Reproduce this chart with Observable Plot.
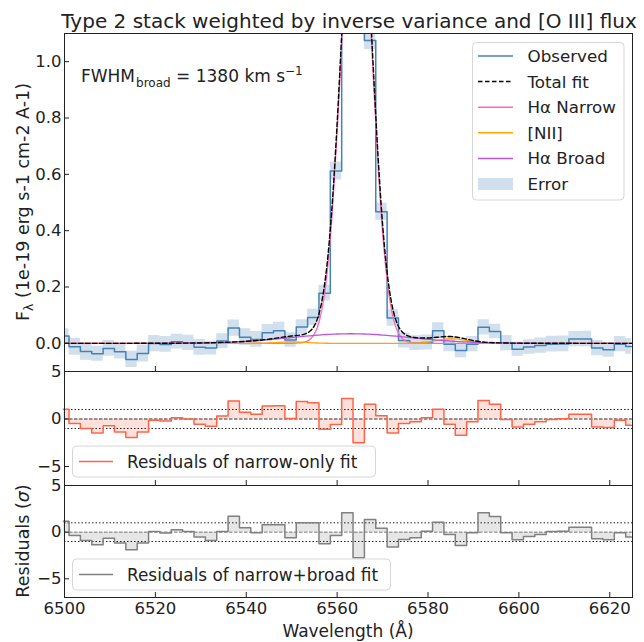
<!DOCTYPE html>
<html><head><meta charset="utf-8">
<script src="https://cdn.jsdelivr.net/npm/d3@7"></script>
<script src="https://cdn.jsdelivr.net/npm/@observablehq/plot@0.6"></script>
<style>
body{margin:0;background:#fff;}
#chart{position:relative;width:644px;height:642px;font-family:"DejaVu Sans",sans-serif;}
#chart svg{position:absolute;left:0;overflow:visible;}
</style></head><body><div id="chart"></div>
<script>
// ---- data ----
const binCenters = [6499.75,6502.25,6504.75,6507.25,6509.75,6512.25,6514.75,6517.25,6519.75,6522.25,
  6524.75,6527.25,6529.75,6532.25,6534.75,6537.25,6539.75,6542.25,6544.75,6547.25,
  6549.75,6552.25,6554.75,6557.25,6559.75,6562.25,6564.75,6567.25,6569.75,6572.25,
  6574.75,6577.25,6579.75,6582.25,6584.75,6587.25,6589.75,6592.25,6594.75,6597.25,
  6599.75,6602.25,6604.75,6607.25,6609.75,6612.25,6614.75,6617.25,6619.75,6622.25,6624.75];
const observed = [0.026,-0.012,-0.029,-0.037,-0.018,-0.030,-0.057,-0.036,-0.001,-0.004,
  0.006,0.002,-0.014,-0.017,0.008,0.054,0.022,0.014,0.038,0.045,
  0.012,0.058,0.092,0.178,0.612,1.90,1.95,1.075,0.467,0.090,
  0.010,0.001,0.003,0.045,-0.003,-0.025,-0.003,0.057,0.042,0.001,
  -0.021,-0.013,-0.008,-0.003,-0.002,0.015,0.015,-0.017,-0.023,-0.003,-0.011];
const errors = [0.026,0.030,0.031,0.027,0.028,0.026,0.029,0.030,0.029,0.028,
  0.026,0.027,0.028,0.024,0.026,0.029,0.030,0.028,0.029,0.030,
  0.026,0.026,0.029,0.028,0.032,0.035,0.035,0.032,0.030,0.029,
  0.027,0.026,0.027,0.028,0.027,0.026,0.027,0.027,0.026,0.027,
  0.025,0.026,0.027,0.028,0.028,0.027,0.028,0.027,0.026,0.027,0.028];
const residNarrow = [1.02,-0.47,-1.0,-1.47,-0.72,-1.36,-1.96,-1.36,-0.12,-0.22,
  0.13,-0.01,-0.54,-0.76,0.31,1.9,0.7,0.49,1.37,1.4,
  0.06,1.83,1.72,-1.07,-0.58,2.15,-2.49,1.55,0.34,-1.47,
  -0.47,-0.3,0.13,1.02,-0.54,-1.71,-0.3,1.94,1.55,-0.05,
  -0.83,-0.54,-0.3,-0.05,0.02,0.49,0.49,-0.83,-0.9,-0.12,-0.65];
const residBroad = [1.18,-0.35,-0.89,-1.35,-0.64,-1.17,-1.88,-1.17,0.07,-0.1,
  0.25,0.07,-0.53,-0.89,0.07,1.71,0.46,-0.07,0.79,0.79,
  -0.6,1.0,1.0,-1.24,-0.35,2.07,-2.74,1.36,0.43,-1.6,
  -0.78,-0.6,0.1,1.07,-0.25,-1.42,-0.07,2.07,1.68,-0.07,
  -0.82,-0.46,-0.25,0.07,0.1,0.53,0.53,-0.71,-0.82,-0.07,-0.53];

const modelWave = [6500,6510,6520,6525,6530,6535,6540,6543,6546,6548,6550,
  6552,6553,6554,6555,6556,6557,6558,6559,6560,6561,6562,6563,6564,6565,6566,6567,
  6568,6569,6570,6571,6572,6573,6574,6575,6576,6577,6578,
  6580,6582,6584,6585,6586,6588,6590,6593,6596,6600,6605,6610,6615,6620,6625];
const narrowFit = [0,0,0,0,0,0,0,0,0,0,0.0002,
  0.0017,0.005,0.0134,0.033,0.074,0.152,0.283,0.482,0.749,1.061,1.372,1.619,1.743,1.711,1.533,1.252,
  0.933,0.635,0.394,0.223,0.115,0.054,0.023,0.0091,0.0033,0.001,0.0003,
  0,0,0,0,0,0,0,0,0,0,0,0,0,0,0];
const broadFit = [0,0,0.0001,0.0005,0.0014,0.0033,0.0071,0.0104,0.0145,0.0175,0.0206,
  0.0238,0.0253,0.0268,0.0281,0.0294,0.0306,0.0316,0.0324,0.0331,0.0336,0.0339,0.034,0.0339,0.0336,0.0331,0.0324,
  0.0316,0.0306,0.0294,0.0281,0.0268,0.0253,0.0238,0.0222,0.0206,0.019,0.0175,
  0.0145,0.0117,0.0092,0.0081,0.0071,0.0054,0.0039,0.0024,0.0014,0.0006,0.0002,0.0001,0,0,0];
const niiFit = [0,0,0,0,0,0,0.0001,0.0006,0.0026,0.0045,0.0053,
  0.0043,0.0034,0.0024,0.0016,0.001,0.0005,0.0003,0.0001,0,0,0,0,0,0,0,0,
  0,0,0,0,0,0,0.0001,0.0001,0.0003,0.0007,0.0015,
  0.0046,0.010,0.015,0.016,0.0155,0.0112,0.0056,0.001,0.0001,0,0,0,0,0,0];
const totalFit = [0,0,0.0001,0.0005,0.0014,0.0033,0.0072,0.011,0.0171,0.022,0.0261,
  0.0298,0.0337,0.0426,0.0627,0.1044,0.1831,0.3149,0.5145,0.7821,1.0946,1.4059,1.653,1.7769,1.7446,1.5661,1.2844,
  0.9646,0.6656,0.4234,0.2511,0.1418,0.0793,0.0469,0.0314,0.0242,0.0207,0.0193,
  0.0191,0.0217,0.0242,0.0241,0.0226,0.0166,0.0095,0.0034,0.0015,0.0006,0.0002,0.0001,0,0,0];

const xTicks = [6500,6520,6540,6560,6580,6600,6620];
const fluxTicks = [0.0,0.2,0.4,0.6,0.8,1.0];
const residTicks = [-5,0,5];

// ---- tables ----
const spec = binCenters.map((x,i)=>({x, y:observed[i], lo:observed[i]-errors[i], hi:observed[i]+errors[i], r1:residNarrow[i], r2:residBroad[i]}));
const model = modelWave.map((x,i)=>({x, narrow:narrowFit[i], broad:broadFit[i], nii:niiFit[i], total:totalFit[i]}));

const W = 644, ML = 64, MR = 12, FW = W-ML-MR;
const xDomain = [6500, 6625];
const ink = "#222";
const baseStyle = {fontFamily:"DejaVu Sans", fontSize:"16.5px", background:"transparent", overflow:"visible", color:ink};
const chart = document.getElementById("chart");
function place(svg, top){ svg.style.top = top+"px"; chart.appendChild(svg); }

// top panel
const H1 = 338;
const p1 = Plot.plot({
  width:W, height:33+H1, marginLeft:ML, marginRight:MR, marginTop:33, marginBottom:0,
  x:{domain:xDomain, axis:null}, y:{domain:[-0.1,1.1], axis:null},
  style:baseStyle,
  marks:[
    Plot.areaY(spec,{x:"x", y1:"lo", y2:"hi", curve:"step", fill:"steelblue", fillOpacity:0.25, clip:true}),
    Plot.line(spec,{x:"x", y:"y", curve:"step", stroke:"steelblue", strokeWidth:1.5, clip:true}),
    Plot.line(model,{x:"x", y:"narrow", curve:"monotone-x", stroke:"hotpink", strokeWidth:1.3, clip:true}),
    Plot.line(model,{x:"x", y:"nii", curve:"monotone-x", stroke:"orange", strokeWidth:1.3, clip:true}),
    Plot.line(model,{x:"x", y:"broad", curve:"monotone-x", stroke:"mediumorchid", strokeWidth:1.3, clip:true}),
    Plot.line(model,{x:"x", y:"total", curve:"monotone-x", stroke:"black", strokeWidth:1.4, strokeDasharray:"4.5,2.5", clip:true}),
    Plot.axisY(fluxTicks,{tickSize:0, tickPadding:3, tickFormat:d3.format(".1f"), label:null}),
    Plot.tickY(fluxTicks,{y:d=>d, insetRight:FW-5, stroke:ink}),
    Plot.tickX(xTicks,{x:d=>d, insetTop:H1-5, stroke:ink}),
    Plot.frame({stroke:ink})
  ]
});
place(p1, 0);

function residPanel(key, color, height, mb, zeroStroke){
  const FH = height - mb;
  return Plot.plot({
    width:W, height, marginLeft:ML, marginRight:MR, marginTop:0, marginBottom:mb,
    x:{domain:xDomain, axis:null}, y:{domain:[-7,5], axis:null},
    style:baseStyle,
    marks:[
      Plot.areaY(spec,{x:"x", y1:0, y2:key, curve:"step", fill:color, fillOpacity:0.2}),
      Plot.ruleY([-1,1],{stroke:"#222", strokeWidth:1, strokeDasharray:"1.5,2"}),
      Plot.ruleY([0],{stroke:zeroStroke, strokeWidth:1, strokeDasharray:"3.5,1.5"}),
      Plot.line(spec,{x:"x", y:key, curve:"step", stroke:color, strokeWidth:1.5}),
      Plot.axisY(residTicks,{tickSize:0, tickPadding:3, tickFormat:d3.format("d"), label:null}),
      mb > 0 ? Plot.axisX(xTicks,{tickSize:0, tickPadding:5, tickFormat:d3.format("d"), label:null}) : null,
      Plot.tickY(residTicks,{y:d=>d, insetRight:FW-5, stroke:ink}),
      Plot.tickX(xTicks,{x:d=>d, insetTop:FH-5, stroke:ink}),
      Plot.frame({stroke:ink})
    ]
  });
}
place(residPanel("r1","tomato",114,0,"#333"), 371);
place(residPanel("r2","gray",157,45,"#777"), 485);

// ---- overlay: titles, labels, legends ----
const ov = d3.create("svg").attr("width",W).attr("height",642)
  .style("top","0px").style("pointer-events","none")
  .attr("font-family","DejaVu Sans").attr("fill",ink);
ov.append("text").attr("x",349).attr("y",28).attr("text-anchor","middle").attr("font-size",20)
  .text("Type 2 stack weighted by inverse variance and [O III] flux");
const ann = ov.append("text").attr("x",81).attr("y",82).attr("font-size",17);
ann.append("tspan").text("FWHM");
ann.append("tspan").attr("font-size",12).attr("dy",4.5).attr("dx",1).text("broad");
ann.append("tspan").attr("dy",-4.5).text(" = 1380 km s");
ann.append("tspan").attr("font-size",12).attr("dy",-7).text("\u22121");

const yl = ov.append("text").attr("transform","translate(29,202) rotate(-90)").attr("text-anchor","middle").attr("font-size",17.5);
yl.append("tspan").text("F");
yl.append("tspan").attr("font-size",12.5).attr("dy",3.5).text("\u03bb");
yl.append("tspan").attr("dy",-3.5).text(" (1e-19 erg s-1 cm-2 A-1)");
const rl = ov.append("text").attr("transform","translate(29,541) rotate(-90)").attr("text-anchor","middle").attr("font-size",17.5);
rl.append("tspan").text("Residuals (");
rl.append("tspan").attr("font-style","italic").text("\u03c3");
rl.append("tspan").text(")");
ov.append("text").attr("x",348).attr("y",637).attr("text-anchor","middle").attr("font-size",17).text("Wavelength (\u00c5)");

// main legend
const legendItems = [
  {label:"Observed", type:"line", color:"steelblue", dash:null},
  {label:"Total fit", type:"line", color:"black", dash:"4.5,2.5"},
  {label:"H\u03b1 Narrow", type:"line", color:"hotpink", dash:null},
  {label:"[NII]", type:"line", color:"orange", dash:null},
  {label:"H\u03b1 Broad", type:"line", color:"mediumorchid", dash:null},
  {label:"Error", type:"patch", color:"steelblue", dash:null}
];
ov.append("rect").attr("x",472.5).attr("y",42.5).attr("width",151.5).attr("height",157.5).attr("rx",4)
  .attr("fill","white").attr("fill-opacity",0.8).attr("stroke","#d6d6d6");
legendItems.forEach((d,i)=>{
  const cy = 56 + i*25.6;
  if(d.type==="line"){
    ov.append("line").attr("x1",478).attr("x2",513).attr("y1",cy).attr("y2",cy)
      .attr("stroke",d.color).attr("stroke-width",1.5).attr("stroke-dasharray",d.dash);
  } else {
    ov.append("rect").attr("x",478).attr("y",cy-6).attr("width",35).attr("height",12)
      .attr("fill",d.color).attr("fill-opacity",0.25);
  }
  ov.append("text").attr("x",527.5).attr("y",cy).attr("dy","0.36em").attr("font-size",16.7).text(d.label);
});
function smallLegend(y, w, color, label){
  ov.append("rect").attr("x",72.5).attr("y",y).attr("width",w).attr("height",31).attr("rx",4)
    .attr("fill","white").attr("fill-opacity",0.8).attr("stroke","#d6d6d6");
  ov.append("line").attr("x1",79).attr("x2",113).attr("y1",y+15.5).attr("y2",y+15.5).attr("stroke",color).attr("stroke-width",1.5);
  ov.append("text").attr("x",127).attr("y",y+15.5).attr("dy","0.36em").attr("font-size",16.9).text(label);
}
smallLegend(446, 303, "tomato", "Residuals of narrow-only fit");
smallLegend(559, 318, "gray", "Residuals of narrow+broad fit");
chart.appendChild(ov.node());
</script></body></html>
